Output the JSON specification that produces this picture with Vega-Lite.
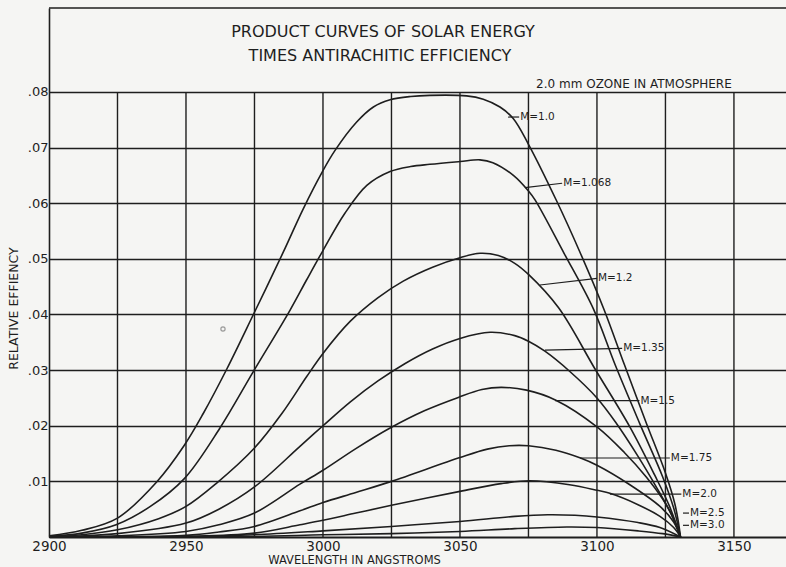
{
  "$schema": "https://vega.github.io/schema/vega-lite/v6.json",
  "width": 737,
  "height": 529,
  "autosize": "none",
  "padding": {"left": 49, "top": 8, "right": 0, "bottom": 30},
  "background": "#f5f5f3",
  "config": {"view": {"stroke": null}, "font": "DejaVu Sans"},
  "datasets": {
    "curves": [
      {"m": "1.0", "w": 2900, "e": 0.0002}, {"m": "1.0", "w": 2912, "e": 0.0012}, {"m": "1.0", "w": 2925, "e": 0.0034},
      {"m": "1.0", "w": 2939.3, "e": 0.0099}, {"m": "1.0", "w": 2949.4, "e": 0.0165}, {"m": "1.0", "w": 2956.3, "e": 0.0222},
      {"m": "1.0", "w": 2964.9, "e": 0.0302}, {"m": "1.0", "w": 2974.6, "e": 0.04}, {"m": "1.0", "w": 2985.5, "e": 0.0512},
      {"m": "1.0", "w": 2992.8, "e": 0.059}, {"m": "1.0", "w": 2999.7, "e": 0.0656}, {"m": "1.0", "w": 3004.4, "e": 0.0695},
      {"m": "1.0", "w": 3012.3, "e": 0.0746}, {"m": "1.0", "w": 3018.4, "e": 0.0773}, {"m": "1.0", "w": 3024.5, "e": 0.0786},
      {"m": "1.0", "w": 3032, "e": 0.0792}, {"m": "1.0", "w": 3039, "e": 0.0794}, {"m": "1.0", "w": 3052.4, "e": 0.0793},
      {"m": "1.0", "w": 3058.5, "e": 0.0787}, {"m": "1.0", "w": 3064.6, "e": 0.0773}, {"m": "1.0", "w": 3069.5, "e": 0.0752},
      {"m": "1.0", "w": 3075, "e": 0.0706}, {"m": "1.0", "w": 3085.3, "e": 0.0604}, {"m": "1.0", "w": 3093.8, "e": 0.0512},
      {"m": "1.0", "w": 3102.5, "e": 0.041}, {"m": "1.0", "w": 3110, "e": 0.031}, {"m": "1.0", "w": 3118, "e": 0.0205},
      {"m": "1.0", "w": 3125, "e": 0.0115}, {"m": "1.0", "w": 3128.5, "e": 0.0058}, {"m": "1.0", "w": 3130.5, "e": 0},

      {"m": "1.068", "w": 2900, "e": 0.0001}, {"m": "1.068", "w": 2912, "e": 0.0007}, {"m": "1.068", "w": 2924.5, "e": 0.0022},
      {"m": "1.068", "w": 2937, "e": 0.0055}, {"m": "1.068", "w": 2949.4, "e": 0.0105}, {"m": "1.068", "w": 2962.4, "e": 0.0196},
      {"m": "1.068", "w": 2974.3, "e": 0.0295}, {"m": "1.068", "w": 2988, "e": 0.0408}, {"m": "1.068", "w": 2994, "e": 0.0462},
      {"m": "1.068", "w": 3000, "e": 0.0515}, {"m": "1.068", "w": 3008, "e": 0.0582}, {"m": "1.068", "w": 3016, "e": 0.0632},
      {"m": "1.068", "w": 3024.5, "e": 0.0657}, {"m": "1.068", "w": 3032, "e": 0.0666}, {"m": "1.068", "w": 3039, "e": 0.067},
      {"m": "1.068", "w": 3050, "e": 0.0675}, {"m": "1.068", "w": 3057.3, "e": 0.0678}, {"m": "1.068", "w": 3062, "e": 0.0673},
      {"m": "1.068", "w": 3069.5, "e": 0.065}, {"m": "1.068", "w": 3075, "e": 0.0622}, {"m": "1.068", "w": 3077.4, "e": 0.0606},
      {"m": "1.068", "w": 3088, "e": 0.051}, {"m": "1.068", "w": 3098.7, "e": 0.041}, {"m": "1.068", "w": 3106.6, "e": 0.031},
      {"m": "1.068", "w": 3115.7, "e": 0.0203}, {"m": "1.068", "w": 3124, "e": 0.0108}, {"m": "1.068", "w": 3128, "e": 0.0052},
      {"m": "1.068", "w": 3130.5, "e": 0},

      {"m": "1.2", "w": 2900, "e": 0}, {"m": "1.2", "w": 2912, "e": 0.0004}, {"m": "1.2", "w": 2925, "e": 0.0013},
      {"m": "1.2", "w": 2940, "e": 0.0033}, {"m": "1.2", "w": 2950, "e": 0.0055}, {"m": "1.2", "w": 2961.2, "e": 0.0097},
      {"m": "1.2", "w": 2975, "e": 0.016}, {"m": "1.2", "w": 2985, "e": 0.0222}, {"m": "1.2", "w": 2994, "e": 0.0288},
      {"m": "1.2", "w": 3000, "e": 0.033}, {"m": "1.2", "w": 3010, "e": 0.0388}, {"m": "1.2", "w": 3020, "e": 0.043},
      {"m": "1.2", "w": 3029.3, "e": 0.046}, {"m": "1.2", "w": 3040, "e": 0.0485}, {"m": "1.2", "w": 3050, "e": 0.0502},
      {"m": "1.2", "w": 3057.3, "e": 0.051}, {"m": "1.2", "w": 3064, "e": 0.0506}, {"m": "1.2", "w": 3070, "e": 0.0492},
      {"m": "1.2", "w": 3075, "e": 0.0472}, {"m": "1.2", "w": 3086, "e": 0.0412}, {"m": "1.2", "w": 3099.3, "e": 0.0302},
      {"m": "1.2", "w": 3112, "e": 0.0198}, {"m": "1.2", "w": 3121, "e": 0.0112}, {"m": "1.2", "w": 3126.5, "e": 0.0055},
      {"m": "1.2", "w": 3130.5, "e": 0},

      {"m": "1.35", "w": 2900, "e": 0}, {"m": "1.35", "w": 2925, "e": 0.0006}, {"m": "1.35", "w": 2950, "e": 0.0025},
      {"m": "1.35", "w": 2962, "e": 0.005}, {"m": "1.35", "w": 2975, "e": 0.009}, {"m": "1.35", "w": 2991.6, "e": 0.0163},
      {"m": "1.35", "w": 3000, "e": 0.02}, {"m": "1.35", "w": 3010, "e": 0.0243}, {"m": "1.35", "w": 3020.2, "e": 0.0281},
      {"m": "1.35", "w": 3030, "e": 0.0312}, {"m": "1.35", "w": 3040, "e": 0.0338}, {"m": "1.35", "w": 3050, "e": 0.0357},
      {"m": "1.35", "w": 3061, "e": 0.0368}, {"m": "1.35", "w": 3070, "e": 0.0362}, {"m": "1.35", "w": 3075, "e": 0.0352},
      {"m": "1.35", "w": 3081, "e": 0.0334}, {"m": "1.35", "w": 3090, "e": 0.0298}, {"m": "1.35", "w": 3100, "e": 0.025},
      {"m": "1.35", "w": 3107, "e": 0.0205}, {"m": "1.35", "w": 3115, "e": 0.0145}, {"m": "1.35", "w": 3122, "e": 0.0087},
      {"m": "1.35", "w": 3127, "e": 0.0042}, {"m": "1.35", "w": 3130.5, "e": 0},

      {"m": "1.5", "w": 2900, "e": 0}, {"m": "1.5", "w": 2925, "e": 0.0002}, {"m": "1.5", "w": 2950, "e": 0.001},
      {"m": "1.5", "w": 2962, "e": 0.0022}, {"m": "1.5", "w": 2975, "e": 0.0043}, {"m": "1.5", "w": 2991.6, "e": 0.0095},
      {"m": "1.5", "w": 3000, "e": 0.012}, {"m": "1.5", "w": 3012, "e": 0.0159}, {"m": "1.5", "w": 3024.5, "e": 0.0196},
      {"m": "1.5", "w": 3037, "e": 0.0227}, {"m": "1.5", "w": 3049.4, "e": 0.0251}, {"m": "1.5", "w": 3058, "e": 0.0265},
      {"m": "1.5", "w": 3065, "e": 0.0269}, {"m": "1.5", "w": 3074.3, "e": 0.0264}, {"m": "1.5", "w": 3085, "e": 0.0246},
      {"m": "1.5", "w": 3100, "e": 0.0198}, {"m": "1.5", "w": 3110, "e": 0.0152}, {"m": "1.5", "w": 3118, "e": 0.0108},
      {"m": "1.5", "w": 3124, "e": 0.0068}, {"m": "1.5", "w": 3128, "e": 0.0033}, {"m": "1.5", "w": 3130.5, "e": 0},

      {"m": "1.75", "w": 2900, "e": 0}, {"m": "1.75", "w": 2950, "e": 0.0003}, {"m": "1.75", "w": 2962, "e": 0.0009},
      {"m": "1.75", "w": 2975, "e": 0.0019}, {"m": "1.75", "w": 2991.6, "e": 0.0047}, {"m": "1.75", "w": 3000, "e": 0.0062},
      {"m": "1.75", "w": 3012, "e": 0.008}, {"m": "1.75", "w": 3025, "e": 0.01}, {"m": "1.75", "w": 3050, "e": 0.0143},
      {"m": "1.75", "w": 3060, "e": 0.0158}, {"m": "1.75", "w": 3068, "e": 0.0164}, {"m": "1.75", "w": 3075, "e": 0.0164},
      {"m": "1.75", "w": 3085, "e": 0.0156}, {"m": "1.75", "w": 3094, "e": 0.0142}, {"m": "1.75", "w": 3100, "e": 0.0129},
      {"m": "1.75", "w": 3112, "e": 0.0094}, {"m": "1.75", "w": 3123, "e": 0.0055}, {"m": "1.75", "w": 3128, "e": 0.0027},
      {"m": "1.75", "w": 3130.5, "e": 0},

      {"m": "2.0", "w": 2900, "e": 0}, {"m": "2.0", "w": 2950, "e": 0.0001}, {"m": "2.0", "w": 2975, "e": 0.0007},
      {"m": "2.0", "w": 2991.6, "e": 0.0022}, {"m": "2.0", "w": 3000, "e": 0.003}, {"m": "2.0", "w": 3012, "e": 0.0043},
      {"m": "2.0", "w": 3025, "e": 0.0057}, {"m": "2.0", "w": 3050, "e": 0.0082}, {"m": "2.0", "w": 3065, "e": 0.0096},
      {"m": "2.0", "w": 3075.5, "e": 0.0101}, {"m": "2.0", "w": 3090, "e": 0.0094}, {"m": "2.0", "w": 3100, "e": 0.0084},
      {"m": "2.0", "w": 3105, "e": 0.0078}, {"m": "2.0", "w": 3115, "e": 0.0058}, {"m": "2.0", "w": 3123, "e": 0.0037},
      {"m": "2.0", "w": 3128, "e": 0.0017}, {"m": "2.0", "w": 3130.5, "e": 0},

      {"m": "2.5", "w": 2900, "e": 0}, {"m": "2.5", "w": 2950, "e": 0.0001}, {"m": "2.5", "w": 2975, "e": 0.0004},
      {"m": "2.5", "w": 3000, "e": 0.0011}, {"m": "2.5", "w": 3025, "e": 0.0019}, {"m": "2.5", "w": 3050, "e": 0.0028},
      {"m": "2.5", "w": 3070, "e": 0.0037}, {"m": "2.5", "w": 3082, "e": 0.004}, {"m": "2.5", "w": 3092, "e": 0.0039},
      {"m": "2.5", "w": 3100, "e": 0.0036}, {"m": "2.5", "w": 3115, "e": 0.0026}, {"m": "2.5", "w": 3123, "e": 0.0017},
      {"m": "2.5", "w": 3130.5, "e": 0},

      {"m": "3.0", "w": 2900, "e": 0}, {"m": "3.0", "w": 2975, "e": 0.0001}, {"m": "3.0", "w": 3000, "e": 0.0004},
      {"m": "3.0", "w": 3025, "e": 0.0006}, {"m": "3.0", "w": 3050, "e": 0.001}, {"m": "3.0", "w": 3070, "e": 0.0015},
      {"m": "3.0", "w": 3089, "e": 0.0018}, {"m": "3.0", "w": 3100, "e": 0.0017}, {"m": "3.0", "w": 3115, "e": 0.0011},
      {"m": "3.0", "w": 3124, "e": 0.0006}, {"m": "3.0", "w": 3130.5, "e": 0}
    ],
    "vgrid": [
      {"w": 2925}, {"w": 2950}, {"w": 2975}, {"w": 3000}, {"w": 3025},
      {"w": 3050}, {"w": 3075}, {"w": 3100}, {"w": 3125}, {"w": 3150}
    ],
    "labels": [
      {"label": "M=1.0", "w": 3067.6, "e": 0.0755, "w2": 3071.6, "e2": 0.0755},
      {"label": "M=1.068", "w": 3073.7, "e": 0.0628, "w2": 3087.3, "e2": 0.0636},
      {"label": "M=1.2", "w": 3079.2, "e": 0.0453, "w2": 3100, "e2": 0.0465},
      {"label": "M=1.35", "w": 3081, "e": 0.0336, "w2": 3109.2, "e2": 0.0339},
      {"label": "M=1.5", "w": 3084.7, "e": 0.0245, "w2": 3115.5, "e2": 0.0245},
      {"label": "M=1.75", "w": 3093.8, "e": 0.0142, "w2": 3126.6, "e2": 0.0142},
      {"label": "M=2.0", "w": 3104.7, "e": 0.0077, "w2": 3130.8, "e2": 0.0077},
      {"label": "M=2.5", "w": 3131.4, "e": 0.0043, "w2": 3133.6, "e2": 0.0043},
      {"label": "M=3.0", "w": 3131.4, "e": 0.0021, "w2": 3133.6, "e2": 0.0021}
    ],
    "titles": [
      {"t": "PRODUCT CURVES OF SOLAR ENERGY", "w": 3021.9, "e": 0.0908},
      {"t": "TIMES ANTIRACHITIC EFFICIENCY", "w": 3020.8, "e": 0.0865}
    ],
    "note": [{"t": "2.0 mm OZONE IN ATMOSPHERE", "w": 3113.5, "e": 0.0815}],
    "speck": [{"w": 2963.5, "e": 0.0374}]
  },
  "layer": [
    {
      "data": {"name": "curves"},
      "mark": {"type": "line", "interpolate": "catmull-rom", "color": "#1e1e1e", "strokeWidth": 1.6},
      "encoding": {
        "x": {
          "field": "w", "type": "quantitative",
          "scale": {"domain": [2900, 3169], "nice": false, "zero": false},
          "axis": {
            "title": "WAVELENGTH IN ANGSTROMS",
            "values": [2900, 2950, 3000, 3050, 3100, 3150],
            "format": "d",
            "grid": false, "ticks": false,
            "domainColor": "#1e1e1e", "domainWidth": 2,
            "labelFont": "DejaVu Sans", "labelFontSize": 13.5, "labelColor": "#1e1e1e", "labelPadding": 2,
            "labelFlush": false,
            "titleFont": "DejaVu Sans", "titleFontSize": 11.5, "titleFontWeight": "normal", "titleColor": "#1e1e1e",
            "titleX": 305, "titleY": 23, "titleAlign": "center", "titleBaseline": "middle"
          }
        },
        "y": {
          "field": "e", "type": "quantitative",
          "scale": {"domain": [0, 0.0951], "nice": false},
          "axis": {
            "title": "RELATIVE EFFIENCY",
            "values": [0.01, 0.02, 0.03, 0.04, 0.05, 0.06, 0.07, 0.08],
            "labelExpr": "replace(format(datum.value, '.2f'), '0.', '.')",
            "grid": true, "gridColor": "#1e1e1e", "gridWidth": 1.4, "gridOpacity": 1,
            "ticks": false,
            "domainColor": "#1e1e1e", "domainWidth": 1.6,
            "labelFont": "DejaVu Sans", "labelFontSize": 13, "labelColor": "#1e1e1e", "labelPadding": 1,
            "labelBaseline": "middle",
            "titleFont": "DejaVu Sans", "titleFontSize": 12.5, "titleFontWeight": "normal", "titleColor": "#1e1e1e",
            "titleX": -35.5, "titleY": 300, "titleAlign": "center", "titleBaseline": "middle"
          }
        },
        "detail": {"field": "m"}
      }
    },
    {
      "data": {"name": "vgrid"},
      "mark": {"type": "rule", "color": "#1e1e1e", "strokeWidth": 1.4},
      "encoding": {
        "x": {"field": "w", "type": "quantitative"},
        "y": {"datum": 0},
        "y2": {"datum": 0.08}
      }
    },
    {
      "data": {"values": [{}]},
      "mark": {"type": "rule", "color": "#1e1e1e", "strokeWidth": 1.5},
      "encoding": {"y": {"datum": 0.0951}}
    },
    {
      "data": {"name": "labels"},
      "mark": {"type": "rule", "color": "#1e1e1e", "strokeWidth": 1.2},
      "encoding": {
        "x": {"field": "w", "type": "quantitative"},
        "y": {"field": "e", "type": "quantitative"},
        "x2": {"field": "w2"},
        "y2": {"field": "e2"}
      }
    },
    {
      "data": {"name": "labels"},
      "mark": {"type": "text", "align": "left", "baseline": "middle", "dx": 1, "font": "DejaVu Sans", "fontSize": 10.5, "color": "#1e1e1e"},
      "encoding": {
        "x": {"field": "w2", "type": "quantitative"},
        "y": {"field": "e2", "type": "quantitative"},
        "text": {"field": "label"}
      }
    },
    {
      "data": {"name": "titles"},
      "mark": {"type": "text", "align": "center", "baseline": "middle", "font": "DejaVu Sans", "fontSize": 16, "color": "#1e1e1e"},
      "encoding": {
        "x": {"field": "w", "type": "quantitative"},
        "y": {"field": "e", "type": "quantitative"},
        "text": {"field": "t"}
      }
    },
    {
      "data": {"name": "note"},
      "mark": {"type": "text", "align": "center", "baseline": "middle", "font": "DejaVu Sans", "fontSize": 12, "color": "#1e1e1e"},
      "encoding": {
        "x": {"field": "w", "type": "quantitative"},
        "y": {"field": "e", "type": "quantitative"},
        "text": {"field": "t"}
      }
    },
    {
      "data": {"name": "speck"},
      "mark": {"type": "point", "shape": "circle", "filled": false, "size": 18, "color": "#777", "strokeWidth": 1.2},
      "encoding": {
        "x": {"field": "w", "type": "quantitative"},
        "y": {"field": "e", "type": "quantitative"}
      }
    }
  ]
}
